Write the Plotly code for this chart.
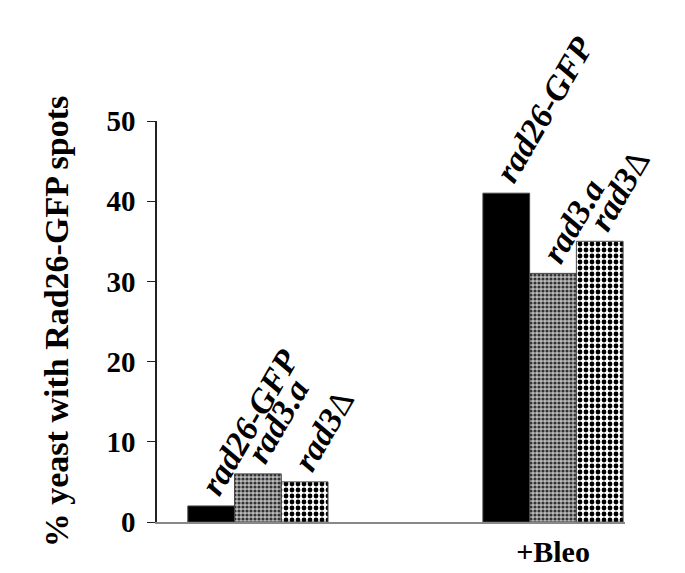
import plotly.graph_objects as go

groups = ["", "+Bleo"]
series_names = ["<b><i>rad26-GFP</i></b>", "<b><i>rad3.a</i></b>", "<b><i>rad3</i></b>Δ"]
rad26_gfp = [2, 41]
rad3_a = [6, 31]
rad3_delta = [5, 35]
y_ticks = [0, 10, 20, 30, 40, 50]

values = [rad26_gfp, rad3_a, rad3_delta]
x_pos = list(range(len(groups)))

FONT = "Liberation Serif"
bargap = 0.525
bar_w = (1 - bargap) / 3

styles = [
    dict(color="black", pattern=None),
    dict(color="white", pattern=dict(shape=".", size=4, solidity=0.5, fgcolor="#333", bgcolor="#bbb", fillmode="replace")),
    dict(color="white", pattern=dict(shape=".", size=6, solidity=0.5, fgcolor="black", bgcolor="white", fillmode="replace")),
]

fig = go.Figure()
for i, (name, vals) in enumerate(zip(series_names, values)):
    marker = dict(color=styles[i]["color"], line=dict(color="#444", width=1))
    if styles[i]["pattern"]:
        marker["pattern"] = styles[i]["pattern"]
    fig.add_trace(go.Bar(x=x_pos, y=vals, name=name, marker=marker, showlegend=False))
    for xi, v in zip(x_pos, vals):
        cx = xi + (i - 1) * bar_w
        fig.add_annotation(
            x=cx, y=v, xref="x", yref="y", text=name,
            textangle=-60, showarrow=False, xanchor="left", yanchor="bottom",
            xshift=-21, yshift=2,
            font=dict(family=FONT, size=34, color="black"),
        )

fig.update_layout(
    width=677, height=565,
    margin=dict(l=149, r=60, t=113, b=51),
    paper_bgcolor="white", plot_bgcolor="white",
    barmode="group", bargap=bargap, bargroupgap=0,
    font=dict(family=FONT, color="black"),
)
fig.update_xaxes(
    range=[-0.342, 1.244], tickvals=x_pos, ticktext=[f"<b>{g}</b>" for g in groups],
    showline=True, linecolor="#888", linewidth=1.5, ticks="", showgrid=False, zeroline=False,
    tickfont=dict(family=FONT, size=30, color="black"), ticklabelstandoff=2, automargin=False,
)
fig.update_yaxes(
    range=[0, 50], tickvals=y_ticks, ticktext=[f"<b>{t}</b>" for t in y_ticks],
    showline=True, linecolor="#222", linewidth=1.5, ticks="outside", ticklen=8, tickcolor="#222",
    showgrid=False, zeroline=False, automargin=False,
    tickfont=dict(family=FONT, size=29, color="black"), ticklabelstandoff=6,
    title=dict(text="<b>% yeast with Rad26-GFP spots</b>", font=dict(family=FONT, size=34, color="black"), standoff=28),
)

fig.write_html("out.html")
